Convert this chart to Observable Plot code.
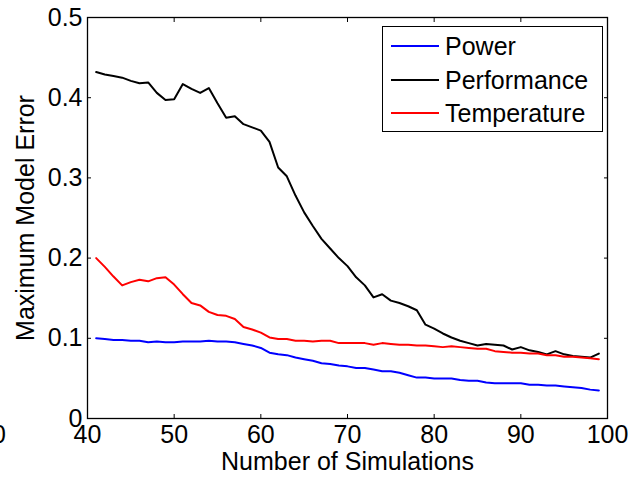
<!DOCTYPE html>
<html>
<head>
<meta charset="utf-8">
<script src="https://cdn.jsdelivr.net/npm/d3@7"></script>
<script src="https://cdn.jsdelivr.net/npm/@observablehq/plot@0.6"></script>
<style>
  html, body { margin: 0; padding: 0; background: #fff; overflow: hidden; }
  #wrap { position: relative; width: 628px; height: 480px; font-family: "Liberation Sans", Arial, sans-serif; }
  #legend { position: absolute; left: 382px; top: 26px; width: 219px; height: 104px; border: 1px solid #000; background: #fff; }
  .item { position: absolute; left: 0; height: 30px; display: flex; align-items: center; font-size: 25px; color: #000; }
  .item svg { margin-left: 8px; margin-right: 6px; }
  #stray { position: absolute; left: -8px; top: 420px; font-size: 25px; color: #000; }
</style>
</head>
<body>
<div id="wrap"><div id="stray">0</div></div>
<script>
const simulations = d3.range(41, 100);
const power = [0.100,0.099,0.098,0.098,0.097,0.097,0.095,0.096,0.095,0.095,
  0.096,0.096,0.096,0.097,0.096,0.096,0.095,0.093,0.091,0.088,
  0.082,0.080,0.079,0.076,0.074,0.072,0.069,0.068,0.066,0.065,
  0.063,0.063,0.061,0.059,0.059,0.057,0.054,0.051,0.051,0.050,
  0.050,0.050,0.048,0.047,0.047,0.045,0.044,0.044,0.044,0.044,
  0.042,0.042,0.041,0.041,0.040,0.039,0.038,0.036,0.035];
const performance = [0.432,0.429,0.427,0.425,0.421,0.418,0.419,0.406,0.397,0.398,
  0.417,0.411,0.406,0.412,0.393,0.375,0.377,0.367,0.363,0.359,
  0.345,0.313,0.302,0.278,0.257,0.240,0.224,0.212,0.200,0.190,
  0.176,0.166,0.151,0.155,0.147,0.144,0.140,0.135,0.117,0.112,
  0.106,0.101,0.097,0.094,0.091,0.093,0.092,0.091,0.086,0.089,
  0.085,0.083,0.080,0.084,0.080,0.078,0.077,0.076,0.081];
const temperature = [0.200,0.189,0.177,0.166,0.170,0.173,0.171,0.175,0.176,0.167,
  0.155,0.144,0.141,0.133,0.129,0.128,0.124,0.114,0.111,0.107,
  0.101,0.099,0.099,0.097,0.097,0.096,0.097,0.097,0.094,0.094,
  0.094,0.094,0.092,0.094,0.093,0.092,0.092,0.091,0.091,0.090,
  0.089,0.090,0.089,0.088,0.087,0.087,0.084,0.083,0.082,0.082,
  0.081,0.081,0.079,0.079,0.077,0.077,0.076,0.075,0.074];
const seriesNames = ["Power", "Performance", "Temperature"];
const seriesColors = ["#0000ff", "#000000", "#ff0000"];
const seriesValues = [power, performance, temperature];
const xTicks = [40, 50, 60, 70, 80, 90, 100];
const yTicks = [0, 0.1, 0.2, 0.3, 0.4, 0.5];
const xLabel = "Number of Simulations";
const yLabel = "Maximum Model Error";

const rows = seriesNames.flatMap((name, k) =>
  simulations.map((s, i) => ({series: name, x: s, y: seriesValues[k][i]})));

const chart = Plot.plot({
  width: 628,
  height: 480,
  marginLeft: 87,
  marginRight: 21,
  marginTop: 17,
  marginBottom: 62,
  x: {domain: [40, 100]},
  y: {domain: [0, 0.5]},
  color: {domain: seriesNames, range: seriesColors},
  style: {fontFamily: '"Liberation Sans", Arial, sans-serif', fontSize: "25px", color: "#000", background: "transparent"},
  marks: [
    Plot.line(rows, {x: "x", y: "y", z: "series", stroke: "series", strokeWidth: 2}),
    Plot.frame({stroke: "#000", strokeWidth: 1.3}),
    Plot.axisX({ticks: xTicks, anchor: "bottom", tickSize: -4, tickPadding: 11, label: null, tickFormat: d => String(d)}),
    Plot.axisX({ticks: xTicks, anchor: "top", tickSize: -4, label: null, tickFormat: () => ""}),
    Plot.axisY({ticks: yTicks, anchor: "left", tickSize: -4, tickPadding: 9, label: null, tickFormat: d => d === 0 ? "0" : d.toFixed(1)}),
    Plot.axisY({ticks: yTicks, anchor: "right", tickSize: -4, label: null, tickFormat: () => ""}),
    Plot.text([xLabel], {text: d => d, frameAnchor: "bottom", textAnchor: "middle", dy: 51, lineAnchor: "bottom", fontSize: 25}),
    Plot.text([yLabel], {text: d => d, frameAnchor: "left", textAnchor: "middle", dx: -54, rotate: -90, lineAnchor: "bottom", fontSize: 25})
  ]
});
const wrap = document.getElementById("wrap");
wrap.appendChild(chart);
chart.style.position = "absolute";
chart.style.left = "0px";
chart.style.top = "0px";

const legend = document.createElement("div");
legend.id = "legend";
const rowTops = [4, 38, 71];
seriesNames.forEach((name, k) => {
  const it = document.createElement("div");
  it.className = "item";
  it.style.top = rowTops[k] + "px";
  it.innerHTML = `<svg width="48" height="4"><line x1="0" y1="2" x2="48" y2="2" stroke="${seriesColors[k]}" stroke-width="2"/></svg><span>${name}</span>`;
  legend.appendChild(it);
});
wrap.appendChild(legend);
</script>
</body>
</html>
